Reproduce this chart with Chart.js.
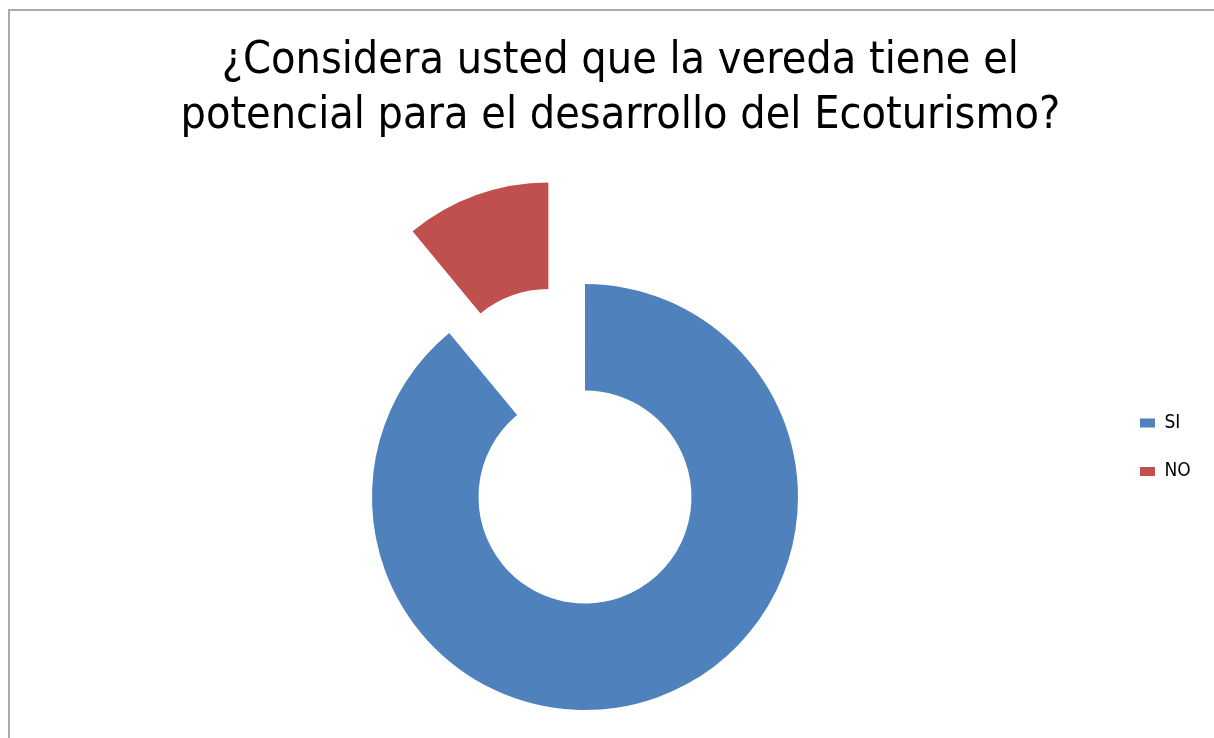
<!DOCTYPE html>
<html><head><meta charset="utf-8">
<script src="https://cdn.jsdelivr.net/npm/chart.js@4.4.1/dist/chart.umd.min.js"></script>
<style>
html,body{margin:0;padding:0;background:#fff;overflow:hidden;width:1214px;height:738px;position:relative;}
#frame{position:absolute;left:8px;top:9px;width:1300px;height:900px;border-left:2px solid #ababab;border-top:2px solid #ababab;}
#c{position:absolute;left:0;top:0;}
</style></head><body>
<div id="frame"></div>
<canvas id="c" width="1214" height="850"></canvas>
<script>
const titleLines = ['¿Considera usted que la vereda tiene el', 'potencial para el desarrollo del Ecoturismo?'];
const categories = ['SI', 'NO'];
const values = [89, 11];

const sliceColors = ['#4F81BD', '#C0504D'];
const clear = 'rgba(0,0,0,0)';

new Chart(document.getElementById('c'), {
  type: 'doughnut',
  data: {
    labels: categories,
    datasets: [
      { // ring holding the "SI" slice
        data: values,
        backgroundColor: [sliceColors[0], clear],
        borderWidth: 0,
        radius: 213,
        cutout: '0%'
      },
      { // ring holding the exploded "NO" slice (sweep/rotation compensate Chart.js offset trimming)
        data: values,
        backgroundColor: [clear, sliceColors[1]],
        borderWidth: 0,
        offset: [0, 432],
        radius: 284.59,
        cutout: '25.156%',
        rotation: -25.73,
        circumference: 387.22
      }
    ]
  },
  options: {
    responsive: false,
    animation: false,
    devicePixelRatio: 1,
    layout: { padding: { left: 40, right: 13.3, top: 10, bottom: 0 } },
    plugins: {
      title: {
        display: true,
        text: titleLines,
        color: '#000',
        font: { family: 'DejaVu Sans Condensed', size: 44.5, weight: 'normal', lineHeight: 1.236 },
        padding: { top: 24.1, bottom: 0 }
      },
      legend: {
        position: 'right',
        align: 'center',
        title: { display: true, text: '', font: { size: 10, lineHeight: 1 }, padding: 22 },
        labels: {
          boxWidth: 15,
          boxHeight: 9,
          padding: 10,
          color: '#000',
          font: { family: 'DejaVu Sans Condensed', size: 19, lineHeight: 2.026 },
          generateLabels: () => categories.map((c, i) => ({
            text: [c],
            fillStyle: sliceColors[i],
            strokeStyle: sliceColors[i],
            lineWidth: 0,
            fontColor: '#000',
            hidden: false,
            index: i
          }))
        }
      },
      tooltip: { enabled: false }
    }
  }
});
</script>
</body></html>
